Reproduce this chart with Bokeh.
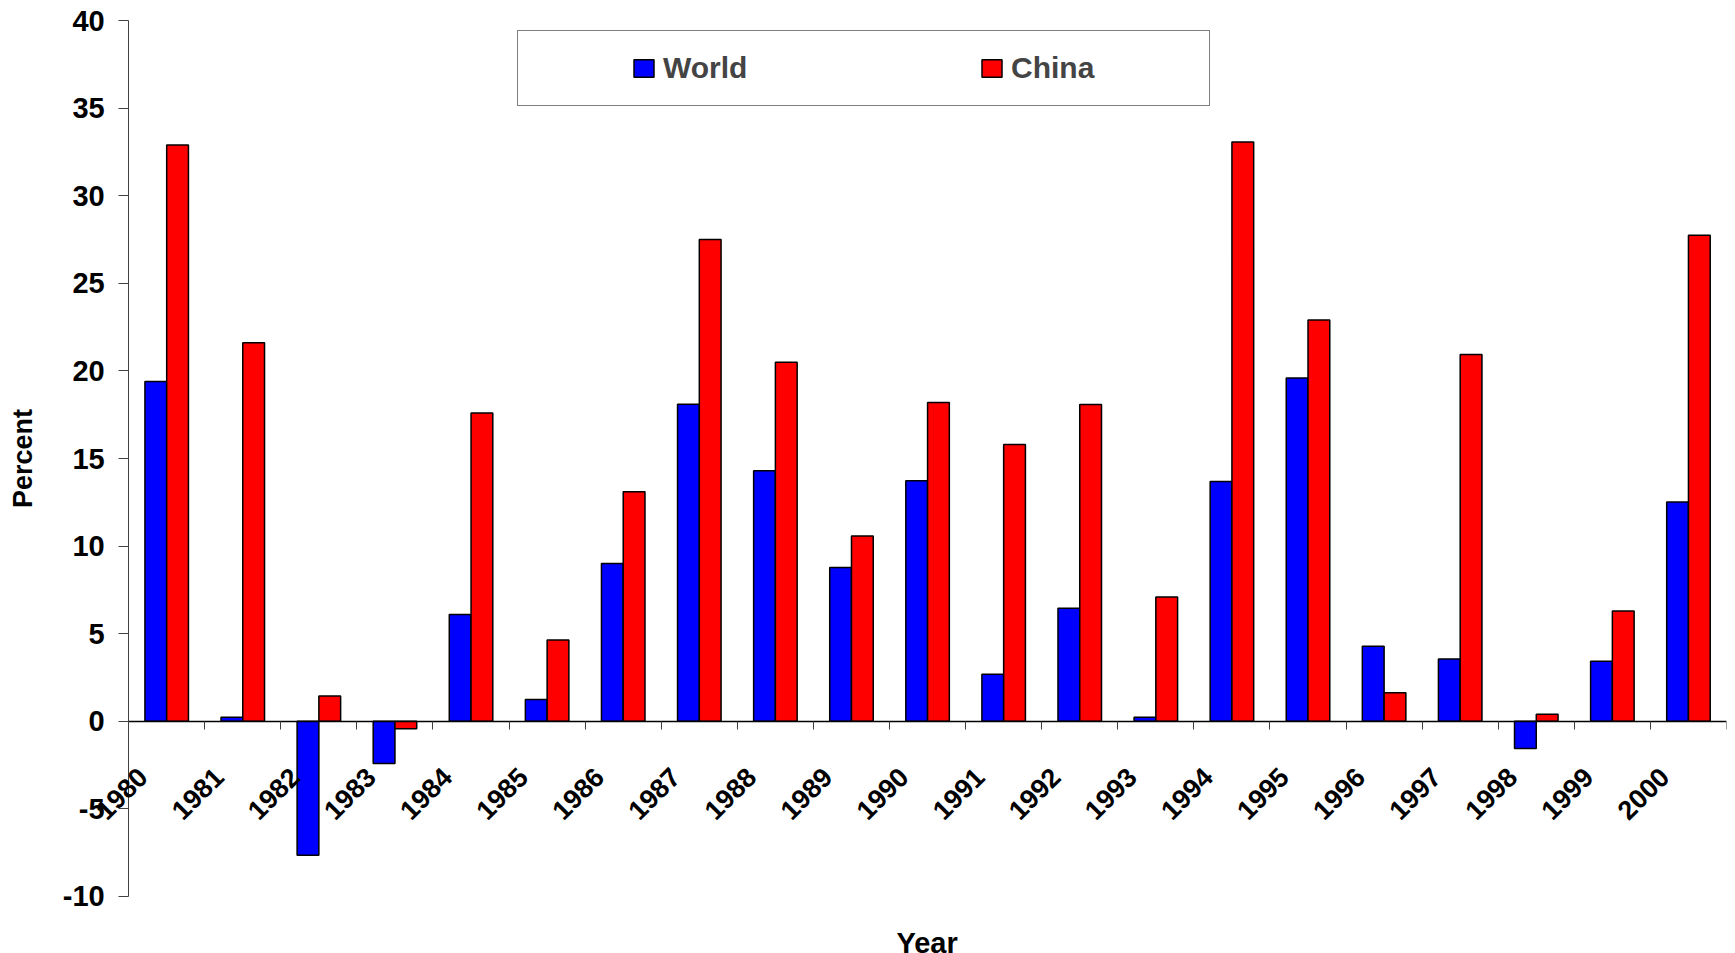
import math
from bokeh.plotting import figure
from bokeh.models import (Range1d, LinearAxis, FixedTicker, ColumnDataSource, Legend,
                          LegendItem, Title, Label)
from bokeh.transform import dodge
from bokeh.embed import file_html
from bokeh.resources import INLINE

years = ["1980", "1981", "1982", "1983", "1984", "1985", "1986", "1987", "1988", "1989",
         "1990", "1991", "1992", "1993", "1994", "1995", "1996", "1997", "1998", "1999", "2000"]
world = [19.4, 0.23, -7.64, -2.41, 6.1, 1.25, 9.0, 18.1, 14.3, 8.78,
         13.73, 2.68, 6.45, 0.23, 13.69, 19.6, 4.28, 3.56, -1.56, 3.42, 12.51]
china = [32.9, 21.6, 1.44, -0.42, 17.6, 4.64, 13.1, 27.5, 20.5, 10.57,
         18.2, 15.8, 18.08, 7.09, 33.07, 22.9, 1.63, 20.94, 0.4, 6.29, 27.74]
y_ticks = [-10, -5, 0, 5, 10, 15, 20, 25, 30, 35, 40]

FONT = "Liberation Sans"

n = len(years)
centres = [i + 0.5 for i in range(n)]          # category centres on the index scale
bounds = list(range(n + 1))                    # category boundaries
y_lo, y_hi = y_ticks[0], y_ticks[-1]

source = ColumnDataSource(data=dict(x=centres, year=years, world=world, china=china))

# the frame reaches past the axes so the end labels are not clipped
x_start = -1.579
y_pad = 0.8
p = figure(x_range=Range1d(x_start, n), y_range=Range1d(y_lo - y_pad, y_hi + y_pad),
           frame_width=1718, frame_height=904,
           min_border_left=8, min_border_top=6, min_border_right=9, min_border_bottom=0,
           output_backend="svg", toolbar_location=None,
           x_axis_location=None, y_axis_location=None)
p.outline_line_color = None
p.xgrid.visible = False
p.ygrid.visible = False
p.background_fill_color = "white"
p.border_fill_color = "white"

bw = 0.286
r_world = p.vbar(x=dodge("x", -bw / 2), top="world", bottom=0, width=bw,
                 source=source, fill_color="#0000FF", line_color="black", line_width=1.5)
r_china = p.vbar(x=dodge("x", bw / 2), top="china", bottom=0, width=bw,
                 source=source, fill_color="#FF0000", line_color="black", line_width=1.5)

# value axis, drawn at the start of the category scale
ya = LinearAxis(fixed_location=0, ticker=FixedTicker(ticks=y_ticks), bounds=(y_lo, y_hi))
ya.major_label_overrides = {v: str(v) for v in y_ticks}
ya.major_label_text_font = FONT
ya.major_label_text_font_style = "bold"
ya.major_label_text_font_size = "29px"
ya.major_label_text_color = "black"
ya.major_tick_out = 10
ya.major_tick_in = 0
ya.minor_tick_line_color = None
ya.major_label_standoff = 14
ya.axis_line_color = "#404040"
ya.major_tick_line_color = "#404040"
ya.axis_label = "Percent"
ya.axis_label_text_font = FONT
ya.axis_label_text_font_style = "bold"
ya.axis_label_text_font_size = "27px"
ya.axis_label_text_color = "black"
ya.axis_label_standoff = 22
p.add_layout(ya, "left")

# category axis line at y = 0 with tick marks between categories
xt = LinearAxis(fixed_location=0, ticker=FixedTicker(ticks=bounds), bounds=(0, n))
xt.major_label_text_font_size = "0px"
xt.major_label_text_color = None
xt.major_tick_out = 8
xt.major_tick_in = 0
xt.minor_tick_line_color = None
xt.axis_line_color = "black"
xt.axis_line_width = 1.5
xt.major_tick_line_color = "#404040"
p.add_layout(xt, "below")

# rotated year labels hanging below the zero line (one per category)
for cx, yr in zip(centres, years):
    p.add_layout(Label(x=cx, y=0, x_units="data", y_units="data", text=yr,
                       angle=math.pi / 4, text_align="right", text_baseline="alphabetic",
                       x_offset=-24, y_offset=-51,
                       text_font=FONT, text_font_style="bold", text_font_size="27px",
                       text_color="black"))

p.add_layout(Title(text="Year", align="left", offset=888, text_font=FONT,
                   text_font_style="bold", text_font_size="29px", text_color="black",
                   standoff=28), "below")

legend = Legend(items=[LegendItem(label="World", renderers=[r_world]),
                       LegendItem(label="China", renderers=[r_china])],
                orientation="horizontal", location=(509, 804), margin=0,
                padding=20, spacing=138, glyph_width=25, glyph_height=22,
                label_standoff=7, label_width=178, label_height=33,
                label_text_font=FONT, label_text_font_style="bold", label_text_font_size="30px",
                border_line_color="black", border_line_width=1,
                title=" ", title_location="left", title_text_font_size="1px", title_standoff=92)
p.add_layout(legend)

open("out.html", "w").write(file_html(p, INLINE))
